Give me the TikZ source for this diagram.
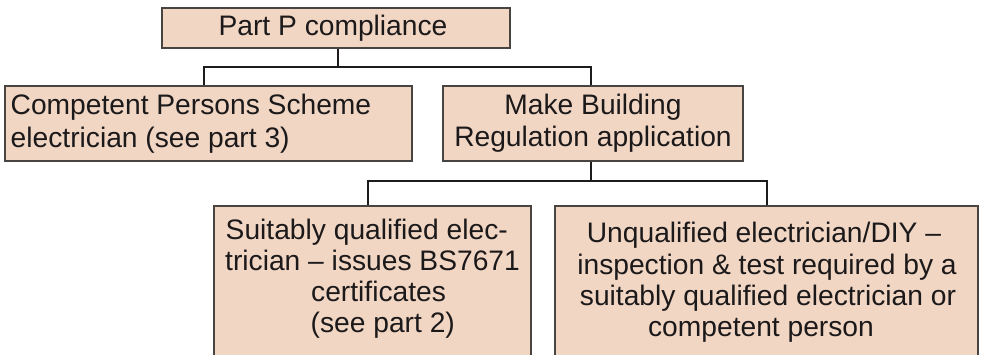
\documentclass[tikz,border=0pt]{standalone}
\usepackage{fontspec}
\setmainfont{Liberation Sans}
\definecolor{boxfill}{RGB}{241,214,196}
\definecolor{boxline}{RGB}{72,68,66}
\definecolor{conline}{RGB}{30,27,28}
\definecolor{txt}{RGB}{28,25,26}
\tikzset{
  box/.style={draw=boxline, line width=1.3pt, fill=boxfill, rectangle, inner sep=0pt},
  conn/.style={draw=conline, line width=2.4pt},
  lbl/.style={inner sep=0pt, text=txt, font=\fontsize{28.2}{32}\selectfont}
}
\begin{document}
\begin{tikzpicture}[x=1pt, y=-1pt]
\useasboundingbox (0,0) rectangle (983,355);
% boxes
\node[box, minimum width=348pt, minimum height=40pt] (top) at (336,28) {};
\node[box, minimum width=407pt, minimum height=75pt] (comp) at (208.5,123.5) {};
\node[box, minimum width=300pt, minimum height=75pt] (make) at (593,123.5) {};
\node[box, minimum width=317pt, minimum height=154pt] (suit) at (372.5,283) {};
\node[box, minimum width=423pt, minimum height=154pt] (unq) at (766.5,283) {};
% texts
\node[lbl, anchor=base] (t1) at (333,36) {Part P compliance};
\node[lbl, anchor=base west] (c1) at (10.5,115) {Competent Persons Scheme};
\node[lbl, anchor=base west] (c2) at (10.5,147.5) {electrician (see part 3)};
\node[lbl, anchor=base] (m1) at (593,115) {Make Building};
\node[lbl, anchor=base] (m2) at (593,147) {Regulation application};
\node[lbl, anchor=base west] (s1) at (225.5,240) {Suitably qualified elec-};
\node[lbl, anchor=base west] (s2) at (225,271) {trician – issues BS7671};
\node[lbl, anchor=base west] (s3) at (311,302) {certificates};
\node[lbl, anchor=base west] (s4) at (310.5,333) {(see part 2)};
\node[lbl, anchor=base] (u1) at (764,243) {Unqualified electrician/DIY –};
\node[lbl, anchor=base] (u2) at (767,274.3) {inspection \& test required by a};
\node[lbl, anchor=base] (u3) at (768,305.6) {suitably qualified electrician or};
\node[lbl, anchor=base] (u4) at (761,337) {competent person};
% connectors
\coordinate (j1) at (338,67);
\coordinate (j2) at (591,181);
\draw[conn] ([xshift=2pt]top.south) -- (j1);
\draw[conn] (j1) -| ([xshift=-4.5pt]comp.north);
\draw[conn] (j1) -| ([xshift=-2pt]make.north);
\draw[conn] ([xshift=-2pt]make.south) -- (j2);
\draw[conn] (j2) -| ([xshift=-4.5pt]suit.north);
\draw[conn] (j2) -| ([xshift=0.5pt]unq.north);
\end{tikzpicture}
\end{document}
